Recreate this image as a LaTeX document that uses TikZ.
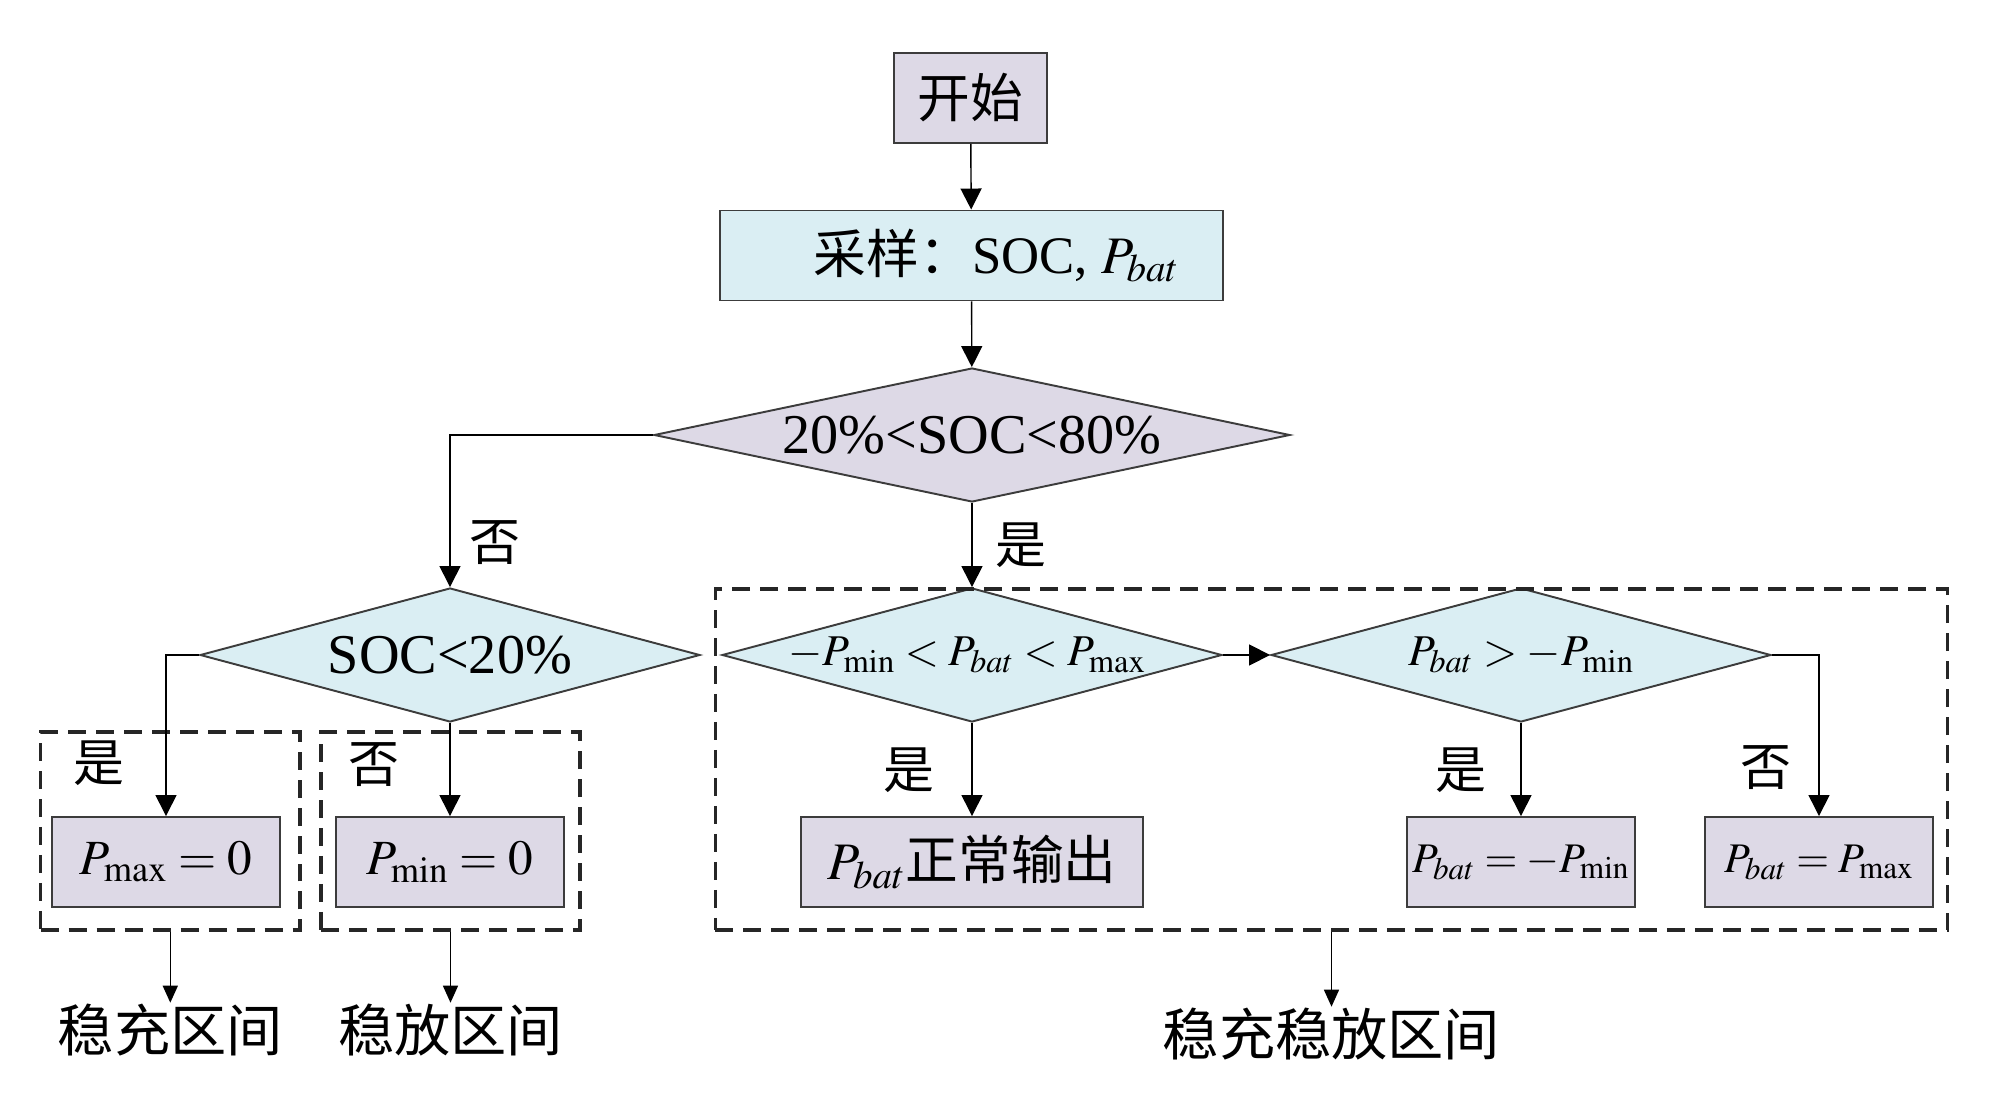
\documentclass[tikz,border=0pt]{standalone}
\usepackage{mathptmx}
\usepackage{fontspec}
\setmainfont{Liberation Serif}
\newfontfamily\cjk{Noto Sans CJK SC}
\usetikzlibrary{shapes.geometric,arrows.meta}
\definecolor{boxpurple}{RGB}{221,217,230}
\definecolor{boxcyan}{RGB}{218,238,243}
\definecolor{edgegray}{RGB}{60,60,60}
\tikzset{
	flowbox/.style={draw=edgegray, line width=1.1pt, inner sep=0pt, minimum height=1.8cm, font=\fontsize{30}{36}\selectfont},
	mathbox/.style={flowbox, fill=boxpurple, minimum width=4.56cm, font=\fontsize{28}{34}\selectfont},
	test/.style={diamond, draw=edgegray, line width=1.1pt, inner sep=0pt, minimum width=10cm, minimum height=2.68cm},
	testtext/.style={font=\fontsize{32}{38}\selectfont, inner sep=0pt},
	testmath/.style={font=\fontsize{25}{30}\selectfont, inner sep=0pt},
	zone/.style={draw=black!85, line width=1.8pt, dash pattern=on 0.36cm off 0.2cm, inner sep=0pt},
	yesno/.style={inner sep=0pt, font=\fontsize{29}{34}\selectfont\cjk},
	zonetext/.style={inner sep=0.5pt, font=\fontsize{32}{38}\selectfont\cjk},
	flowarrow/.style={line width=0.8pt, -{Triangle[length=0.42cm,width=0.42cm]}},
	zonearrow/.style={line width=0.8pt, -{Triangle[length=0.34cm,width=0.3cm]}}
}

\begin{document}
\begin{tikzpicture}[x=0.02cm, y=-0.02cm]
		%%%%% START %%%%%
		\useasboundingbox (0, 0) rectangle (1999, 1108);
		
		\node[flowbox, fill=boxpurple, minimum width=3.06cm] (start) at (970.5, 98) {\cjk 开始};
		\node[flowbox, fill=boxcyan, minimum width=10.06cm] (sample) at (971.5, 255.5) {\hspace{1cm}{\cjk 采样：}SOC, $P_{bat}$};
		
		\node[test, fill=boxpurple, minimum width=12.72cm, label={[testtext]center:20\%<SOC<80\%}] (judge) at (972, 435) {};
		\node[test, fill=boxcyan, label={[testtext]center:SOC<20\%}] (low) at (450, 655) {};
		\node[test, fill=boxcyan, label={[testmath, xshift=-0.1cm]center:{$-P_{\mathrm{min}}<P_{bat}<P_{\mathrm{max}}$}}] (band) at (972, 655) {};
		\node[test, fill=boxcyan, label={[testmath]center:{$P_{bat}>-P_{\mathrm{min}}$}}] (dis) at (1521, 655) {};
		
		\node[zone, minimum width=5.19cm, minimum height=3.96cm] (zone1) at (170.3, 831) {};
		\node[zone, minimum width=5.18cm, minimum height=3.96cm] (zone2) at (450.5, 831) {};
		\node[zone, minimum width=24.66cm, minimum height=6.82cm] (zone3) at (1331.5, 759.5) {};
		
		\node[mathbox] (pmax) at (166, 862) {$P_{\mathrm{max}}=0$};
		\node[mathbox] (pmin) at (450, 862) {$P_{\mathrm{min}}=0$};
		\node[mathbox, minimum width=6.84cm, font=\fontsize{30}{36}\selectfont] (normal) at (972, 862) {$P_{bat}${\cjk 正常输出}};
		\node[mathbox, font=\fontsize{24}{29}\selectfont] (eqmin) at (1521, 862) {$P_{bat}=-P_{\mathrm{min}}$};
		\node[mathbox, font=\fontsize{24}{29}\selectfont] (eqmax) at (1819, 862) {$P_{bat}=P_{\mathrm{max}}$};
		
		\node[yesno] (no1) at (495, 543) {否};
		\node[yesno] (yes1) at (1021, 545) {是};
		\node[yesno] (yes2) at (99, 763) {是};
		\node[yesno] (no2) at (374, 765) {否};
		\node[yesno] (yes3) at (909, 770) {是};
		\node[yesno] (yes4) at (1461, 770) {是};
		\node[yesno] (no3) at (1766, 768) {否};
		
		\node[zonetext] (charge) at (170.3, 1030) {稳充区间};
		\node[zonetext] (discharge) at (450.5, 1030) {稳放区间};
		\node[zonetext] (both) at (1331.5, 1034) {稳充稳放区间};
		
		\draw[flowarrow] (start) -- (sample);
		\draw[flowarrow] (sample) -- (judge);
		\draw[flowarrow] (judge.west) -| (low.north);
		\draw[flowarrow] (judge.south) -- (band.north);
		\draw[flowarrow] (low.west) -| (pmax.north);
		\draw[flowarrow] (low.south) -- (pmin.north);
		\draw[flowarrow] (band.east) -- (dis.west);
		\draw[flowarrow] (band.south) -- (normal.north);
		\draw[flowarrow] (dis.south) -- (eqmin.north);
		\draw[flowarrow] (dis.east) -| (eqmax.north);
		
		\draw[zonearrow] (zone1.south) -- (charge.north);
		\draw[zonearrow] (zone2.south) -- (discharge.north);
		\draw[zonearrow] (zone3.south) -- (both.north);
		%%%%% END %%%%%
\end{tikzpicture}
\end{document}
